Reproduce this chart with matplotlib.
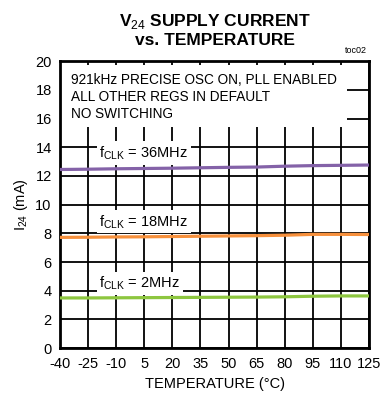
import matplotlib.pyplot as plt
from matplotlib.patches import Rectangle

plt.rcParams['font.family'] = ['Liberation Sans', 'DejaVu Sans']
plt.rcParams['mathtext.fontset'] = 'custom'
plt.rcParams['mathtext.rm'] = 'Liberation Sans'
plt.rcParams['axes.unicode_minus'] = False

temps = [-40, -25, -10, 5, 20, 35, 50, 65, 80, 95, 110, 125]
i_36mhz = [12.45, 12.47, 12.50, 12.52, 12.54, 12.57, 12.60, 12.62, 12.68, 12.72, 12.74, 12.76]
i_18mhz = [7.72, 7.73, 7.75, 7.76, 7.78, 7.80, 7.82, 7.84, 7.87, 7.93, 7.93, 7.92]
i_2mhz = [3.50, 3.50, 3.51, 3.52, 3.53, 3.54, 3.55, 3.56, 3.58, 3.62, 3.64, 3.64]
xticks = list(range(-40, 126, 15))
yticks = list(range(0, 21, 2))

fig = plt.figure(figsize=(3.8, 3.97), dpi=100)
ax = fig.add_axes([0.158, 0.123, 0.813, 0.723])

ax.set_xlim(-40, 125)
ax.set_ylim(0, 20)
ax.set_xticks(xticks)
ax.set_yticks(yticks)
ax.tick_params(labelsize=10.5, direction='in', length=0, top=True, right=True, pad=6)
ax.grid(True, color='black', linewidth=1.3)
ax.set_axisbelow(True)
for s in ax.spines.values():
    s.set_linewidth(2)

# white box covering the grid behind the notes (grid peeks out at the top like ticks)
ax.add_patch(Rectangle((-40, 15.4), 165 * 0.93, 4.32, facecolor='white',
                       edgecolor='none', zorder=1))
ax.text(-34, 18.7, "921kHz PRECISE OSC ON, PLL ENABLED", fontsize=9.8, va='center', zorder=3)
ax.text(-34, 17.5, "ALL OTHER REGS IN DEFAULT", fontsize=9.8, va='center', zorder=3)
ax.text(-34, 16.3, "NO SWITCHING", fontsize=9.8, va='center', zorder=3)

ax.plot(temps, i_36mhz, color='#8462a8', linewidth=2.3, zorder=4)
ax.plot(temps, i_18mhz, color='#f7903c', linewidth=2.3, zorder=4)
ax.plot(temps, i_2mhz, color='#8dc63f', linewidth=2.3, zorder=4)

box = dict(facecolor='white', edgecolor='none', pad=2)
ax.text(-19, 13.6, r"f$_{\mathrm{CLK}}$ = 36MHz", fontsize=10.5, va='center', bbox=box, zorder=3)
ax.text(-19, 8.8, r"f$_{\mathrm{CLK}}$ = 18MHz", fontsize=10.5, va='center', bbox=box, zorder=3)
ax.text(-19, 4.5, r"f$_{\mathrm{CLK}}$ = 2MHz", fontsize=10.5, va='center', bbox=box, zorder=3)

ax.set_xlabel("TEMPERATURE (°C)", fontsize=10.5, labelpad=5)
ax.set_ylabel(r"I$_{24}$ (mA)", fontsize=10.5, labelpad=4)

fig.text(0.565, 0.925, "V$_{24}$ SUPPLY CURRENT\nvs. TEMPERATURE", fontsize=12.5,
         fontweight='bold', ha='center', va='center', linespacing=1.2)
fig.text(0.965, 0.862, "toc02", fontsize=6.5, ha='right', va='bottom')

fig.savefig("out.png", dpi=100)
